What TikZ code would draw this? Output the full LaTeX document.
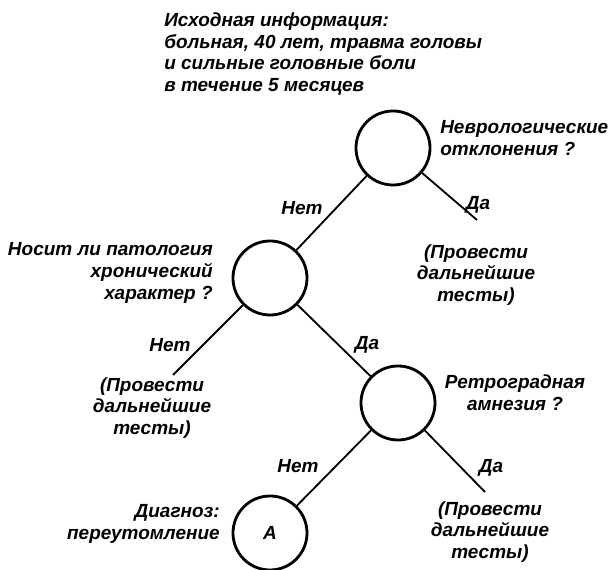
\documentclass[tikz,border=0pt]{standalone}
\usepackage{fontspec}
\setmainfont{Liberation Sans}
\begin{document}
\begin{tikzpicture}[x=0.025cm, y=-0.025cm,
font=\bfseries\itshape\fontsize{13.5}{15.5}\selectfont,
question/.style = {draw, circle, line width=2pt, minimum size=1.85cm, inner sep=0pt},
branch-line/.style = {line width=1.3pt},
note/.style = {inner sep=0pt}
]
\useasboundingbox (0,0) rectangle (608,570);
% starting data
\node[note, anchor=west, align=left] (intro) at (164,54)
    {Исходная информация:\\больная, 40 лет, травма головы\\и сильные головные боли\\в течение 5 месяцев};
% decision circles
\node[question] (q1) at (393,148) {};
\node[question] (q2) at (270,278) {};
\node[question] (q3) at (398,403) {};
\node[question] (diag) at (270,533) {A};
\node[note, anchor=west, align=left] (q1-text) at (440,138) {Неврологические\\отклонения ?};
\node[note, anchor=east, align=right] (q2-text) at (213,273) {Носит ли патология\\хронический\\характер ?};
\node[note, align=center] (q3-text) at (515,393) {Ретроградная\\амнезия ?};
\node[note, anchor=east, align=right] (diag-text) at (220,524) {Диагноз:\\переутомление};
% further tests
\node[note, align=center] (tests1) at (476,275) {(Провести\\дальнейшие\\тесты)};
\node[note, align=center] (tests2) at (152,408) {(Провести\\дальнейшие\\тесты)};
\node[note, align=center] (tests3) at (490,532) {(Провести\\дальнейшие\\тесты)};
\coordinate (end1) at (477,220);
\coordinate (end2) at (173,375);
\coordinate (end3) at (485,492);
% branches
\draw[branch-line] (q1) -- (q2);
\draw[branch-line] (q1) -- (end1);
\draw[branch-line] (q2) -- (end2);
\draw[branch-line] (q2) -- (q3);
\draw[branch-line] (q3) -- (diag);
\draw[branch-line] (q3) -- (end3);
\node[note] (no1) at (302,208) {Нет};
\node[note] (yes1) at (478,205) {Да};
\node[note] (no2) at (170,345) {Нет};
\node[note] (yes2) at (367,345) {Да};
\node[note] (no3) at (298,466) {Нет};
\node[note] (yes3) at (491,468) {Да};
\end{tikzpicture}
\end{document}
